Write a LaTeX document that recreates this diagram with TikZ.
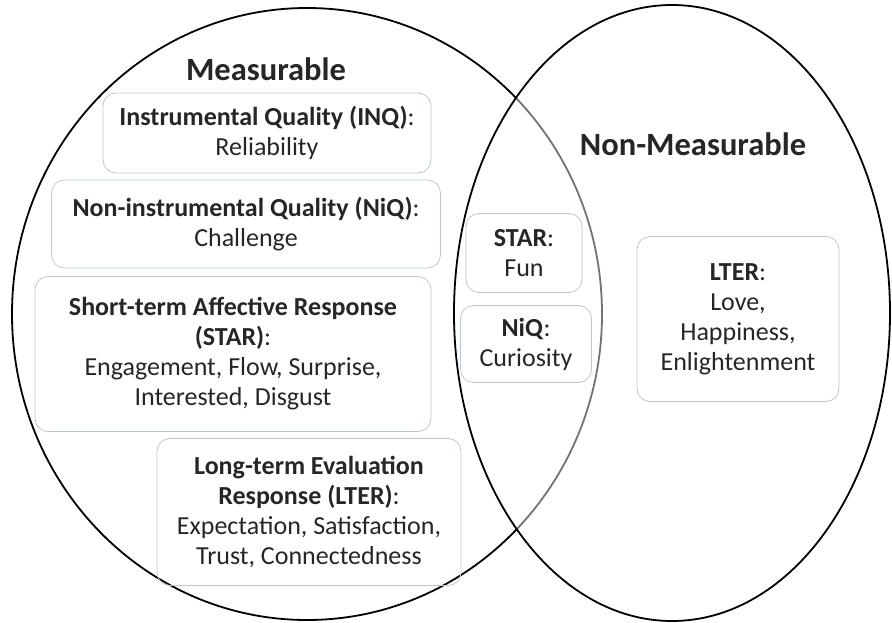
\documentclass[tikz,border=0pt]{standalone}
\usepackage{fontspec}
\setmainfont{Carlito}
\definecolor{boxline}{HTML}{BCC8D0}
\definecolor{ink}{HTML}{262626}

\begin{document}
\begin{tikzpicture}[x=1pt, y=-1pt,
  card/.style={draw=boxline, line width=0.8pt, rounded corners=13pt, align=center,
    inner sep=0pt, text=ink, font=\fontsize{26}{30}\selectfont},
  heading/.style={text=ink, font=\fontsize{32.5}{38}\selectfont\bfseries}]
\useasboundingbox (0,0) rectangle (892,623);

% the two sets
\draw [line width=1.8pt] (307,314) ellipse [x radius=295, y radius=306];
\fill [white, fill opacity=0.45] (672,313) ellipse [x radius=218, y radius=308];
\draw [line width=1.8pt] (672,313) ellipse [x radius=218, y radius=308];

\node [heading] (meas) at (266,69) {Measurable};
\node [heading] (nonmeas) at (693,144) {Non-Measurable};

% measurable side
\node [card, minimum width=328, minimum height=80] (inq) at (267,133) {\textbf{Instrumental Quality (INQ)}:\\Reliability};
\node [card, minimum width=389, minimum height=88] (niq) at (246,224) {\textbf{Non-instrumental Quality (NiQ)}:\\Challenge};
\node [card, minimum width=396, minimum height=155] (star) at (233,354) {\textbf{Short-term Affective Response}\\\textbf{(STAR)}:\\Engagement, Flow, Surprise,\\Interested, Disgust};
\node [card, minimum width=304, minimum height=147] (lter) at (309,512) {\textbf{Long-term Evaluation}\\\textbf{Response (LTER)}:\\Expectation, Satisfaction,\\Trust, Connectedness};

% overlap
\node [card, minimum width=116, minimum height=79] (starmid) at (524,253) {\textbf{STAR}:\\Fun};
\node [card, minimum width=131, minimum height=77] (niqmid) at (526,344) {\textbf{NiQ}:\\Curiosity};

% non-measurable side
\node [card, minimum width=202, minimum height=165] (lterright) at (738,319) {\textbf{LTER}:\\Love,\\Happiness,\\Enlightenment};

\end{tikzpicture}
\end{document}
